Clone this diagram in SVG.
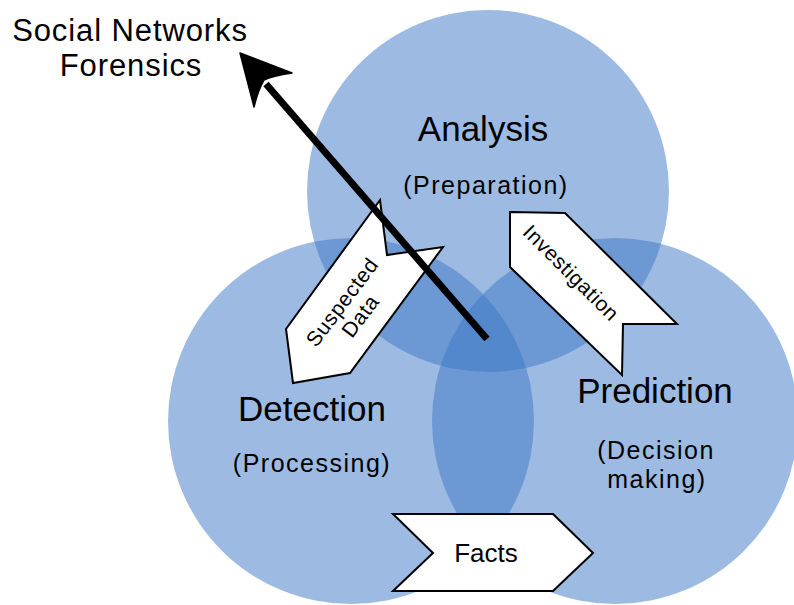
<svg xmlns="http://www.w3.org/2000/svg" width="794" height="605" viewBox="0 0 794 605">
<style>
.circ{fill:#3b78c6;fill-opacity:0.5;stroke:none}
.chev{fill:#ffffff;stroke:#000000;stroke-width:2;stroke-linejoin:miter}
.big{font-family:"Liberation Sans",Arial,sans-serif;font-size:35px;fill:#000;text-anchor:middle}
.sub{font-family:"Liberation Sans",Arial,sans-serif;font-size:25px;letter-spacing:1.5px;fill:#000;text-anchor:middle}
.ttl{font-family:"Liberation Sans",Arial,sans-serif;font-size:31px;letter-spacing:0.9px;fill:#000;text-anchor:middle}
.lbl{font-family:"Liberation Sans",Arial,sans-serif;font-size:21px;letter-spacing:0.6px;fill:#000;text-anchor:middle}
</style>
<rect width="794" height="605" fill="#ffffff"/>
<g id="analysis-circle"><circle class="circ" cx="488" cy="191" r="181"/></g>
<g id="detection-circle"><circle class="circ" cx="351" cy="421" r="183"/></g>
<g id="prediction-circle"><circle class="circ" cx="615" cy="421" r="183"/></g>
<g id="analysis">
<text class="big" x="483" y="141">Analysis</text>
<text class="sub" x="486" y="194">(Preparation)</text>
</g>
<g id="detection">
<text class="big" x="312" y="421">Detection</text>
<text class="sub" x="312" y="472">(Processing)</text>
</g>
<g id="prediction">
<text class="big" x="655" y="403">Prediction</text>
<text class="sub" x="656" y="459">(Decision</text>
<text class="sub" x="657" y="488">making)</text>
</g>
<g id="title">
<text class="ttl" x="130" y="41">Social Networks</text>
<text class="ttl" x="131" y="76">Forensics</text>
</g>
<g id="investigation">
<polygon class="chev" points="510,212 565,213 677,324 623,324 622,375 510,267"/>
<text class="lbl" transform="translate(571,273) rotate(45)" x="0" y="7">Investigation</text>
</g>
<g id="suspected-data">
<polygon class="chev" points="380,200 387,255 443,247 350,373 293,383 286,329"/>
<g transform="translate(351,309) rotate(-53)">
<text class="lbl" x="0" y="-4">Suspected</text>
<text class="lbl" x="0" y="19">Data</text>
</g>
</g>
<g id="facts">
<polygon class="chev" points="393,514 553,514 593,553 553,591 393,591 433,553"/>
<text class="big" style="font-size:26px" x="486" y="562">Facts</text>
</g>
<g id="connectors">
<line x1="487" y1="339" x2="266" y2="84" stroke="#000" stroke-width="7"/>
<path d="M240,53 L292,73 Q272,76 264,80 Q258,90 254,107 Z" fill="#000" stroke="#000" stroke-width="1.5" stroke-linejoin="round"/>
</g>
</svg>
